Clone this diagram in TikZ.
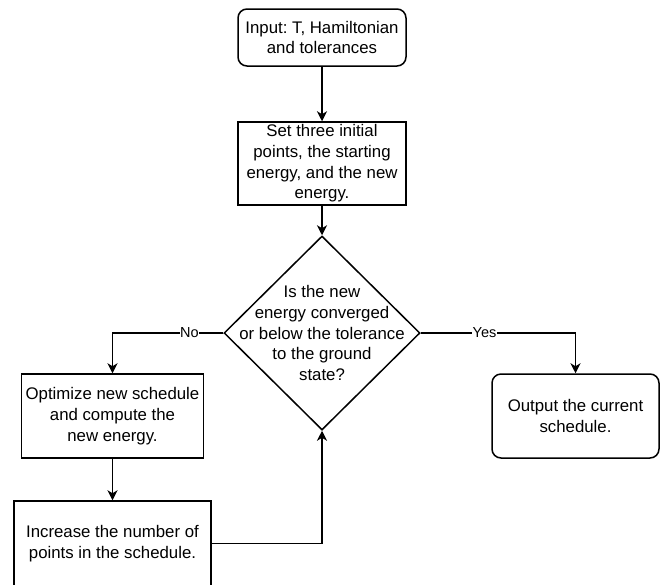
\documentclass[tikz,border=0pt]{standalone}
\usepackage{fontspec}
\setmainfont{Liberation Sans}
\usetikzlibrary{shapes.geometric,arrows.meta}
\frenchspacing
\begin{document}
\begin{tikzpicture}[x=1pt,y=-1pt,
  every node/.style={font=\fontsize{16.8}{20.7}\selectfont, align=center, inner sep=0pt},
  box/.style={draw, line width=1.5pt, rectangle},
  rbox/.style={box, rounded corners=9pt},
  dec/.style={draw, line width=1.5pt, diamond},
  conn/.style={line width=1.5pt, -{Stealth[length=10pt,width=10pt,inset=3pt]}},
  lab/.style={font=\fontsize{14.5}{17}\selectfont, fill=white, inner sep=0.5pt}]
\useasboundingbox (0,0) rectangle (660,584);
\node[rbox, minimum width=168pt, minimum height=57pt] (in) at (322,37.5) {Input: T, Hamiltonian\\and tolerances};
\node[box, minimum width=168pt, minimum height=83pt] (set) at (322,163.5) {Set three initial\\points, the starting\\energy, and the new\\energy.};
\node[dec, minimum width=196pt, minimum height=194pt] (d) at (322,333) {};
\node (dtext) at (322,333) {Is the new\\energy converged\\or below the tolerance\\to the ground\\state?};
\node[box, minimum width=182pt, minimum height=84pt] (opt) at (112.5,416) {Optimize new schedule\\and compute the\\new energy.};
\node[rbox, minimum width=167pt, minimum height=84pt] (out) at (575.5,416) {Output the current\\schedule.};
\node[box, minimum width=197pt, minimum height=85pt] (inc) at (112.5,543.5) {Increase the number of\\points in the schedule.};
\draw[conn] (in) -- (set);
\draw[conn] (set) -- (d.north);
\draw[conn] (d.west) -| node[lab, pos=0.153] {No} (opt.north);
\draw[conn] (d.east) -| node[lab, pos=0.206] {Yes} (out.north);
\draw[conn] (opt) -- (inc);
\draw[conn] (inc.east) -| (d.south);
\end{tikzpicture}
\end{document}
